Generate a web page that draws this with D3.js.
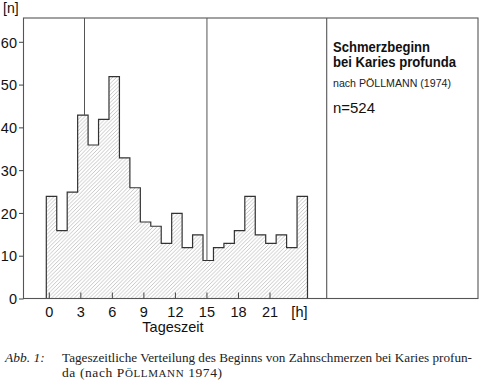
<!DOCTYPE html>
<html><head><meta charset="utf-8">
<script src="https://cdn.jsdelivr.net/npm/d3@7"></script>
<style>body{margin:0;background:#fff}svg{display:block}</style>
</head><body><svg id="c" width="480" height="381"></svg>
<script>
// ---- data ----
const hours  = [0,1,2,3,4,5,6,7,8,9,10,11,12,13,14,15,16,17,18,19,20,21,22,23,24];
const counts = [24,16,25,43,36,42,52,33,26,18,17,13,20,12,15,9,12,13,16,24,15,13,15,12,24];
const xTickValues = [0,3,6,9,12,15,18,21];
const xTickLabels = ["0","3","6","9","12","15","18","21"];
const yTickValues = [0,10,20,30,40,50,60];
const markerHours = [3.35, 15];
const titleLines = ["Schmerzbeginn","bei Karies profunda"];
const sourceText = "nach PÖLLMANN (1974)";
const nText = "n=524";

const svg = d3.select("#c");
const frame = {l:23.5, t:18, r:478, b:298.5, divider:326.7};
const sans = "Liberation Sans, Arial, sans-serif";

const y = d3.scaleLinear().domain([0,60]).range([299,42.3]);
const x = d3.scaleLinear().domain([0,21]).range([49.3,270]);
const xb = d3.scaleBand().domain(hours).range([46.3,307.5]).padding(0);

// hatch pattern
const defs = svg.append("defs");
const p = defs.append("pattern").attr("id","hatch").attr("patternUnits","userSpaceOnUse")
  .attr("width",3.8).attr("height",3.8);
p.append("path").attr("d","M0,3.8L3.8,0M-1,1L1,-1M2.8,4.8L4.8,2.8")
  .attr("stroke","#999").attr("stroke-width",0.55).attr("fill","none");

// histogram step outline
const pts = [];
hours.forEach((h,i)=>{
  pts.push([xb(h), y(counts[i])]);
  pts.push([xb(h)+xb.bandwidth(), y(counts[i])]);
});
const area = [[xb(hours[0]), y(0)], ...pts, [xb(hours[hours.length-1])+xb.bandwidth(), y(0)]];
svg.append("path").attr("d", d3.line()(area)+"Z").attr("fill","url(#hatch)").attr("stroke","none");
svg.append("path").attr("d", d3.line()(area)).attr("fill","none")
  .attr("stroke","#333").attr("stroke-width",1.2).attr("stroke-linejoin","miter");

// marker vertical lines from top down to bar top
markerHours.forEach(h=>{
  const px = x(h);
  const idx = Math.floor((px - xb.range()[0]) / xb.bandwidth());
  svg.append("line").attr("x1",px).attr("x2",px).attr("y1",frame.t).attr("y2",y(counts[idx]))
    .attr("stroke","#555").attr("stroke-width",1);
});

// frame
const g = svg.append("g").attr("stroke","#555").attr("stroke-width",1.1).attr("fill","none");
g.append("rect").attr("x",frame.l).attr("y",frame.t).attr("width",frame.r-frame.l).attr("height",frame.b-frame.t);
g.append("line").attr("x1",frame.divider).attr("x2",frame.divider).attr("y1",frame.t).attr("y2",frame.b);

// y ticks
yTickValues.forEach(v=>{
  svg.append("line").attr("x1",19).attr("x2",frame.l).attr("y1",y(v)).attr("y2",y(v))
    .attr("stroke","#444").attr("stroke-width",1);
  svg.append("text").attr("x",17).attr("y",y(v)).attr("dy","0.36em").attr("text-anchor","end")
    .attr("font-family",sans).attr("font-size",14.5).attr("fill","#111").text(v);
});
// x ticks
xTickValues.forEach((v,i)=>{
  svg.append("line").attr("x1",x(v)).attr("x2",x(v)).attr("y1",frame.b).attr("y2",frame.b-6)
    .attr("stroke","#444").attr("stroke-width",1);
  svg.append("text").attr("x",x(v)).attr("y",316.5).attr("text-anchor","middle")
    .attr("font-family",sans).attr("font-size",14.5).attr("fill","#111").text(xTickLabels[i]);
});
svg.append("text").attr("x",x(23.8)).attr("y",316.5).attr("text-anchor","middle")
  .attr("font-family",sans).attr("font-size",14.5).attr("fill","#111").text("[h]");
svg.append("text").attr("x",173).attr("y",332).attr("text-anchor","middle")
  .attr("font-family",sans).attr("font-size",14.5).attr("fill","#111").text("Tageszeit");
svg.append("text").attr("x",3).attr("y",13)
  .attr("font-family",sans).attr("font-size",14).attr("fill","#111").text("[n]");

// right panel
svg.append("text").attr("x",333).attr("y",51.5).attr("textLength",97).attr("lengthAdjust","spacingAndGlyphs")
  .attr("font-family",sans).attr("font-weight","bold").attr("font-size",14).attr("fill","#111").text(titleLines[0]);
svg.append("text").attr("x",333).attr("y",67).attr("textLength",123).attr("lengthAdjust","spacingAndGlyphs")
  .attr("font-family",sans).attr("font-weight","bold").attr("font-size",14).attr("fill","#111").text(titleLines[1]);
svg.append("text").attr("x",333).attr("y",87).attr("textLength",118).attr("lengthAdjust","spacingAndGlyphs")
  .attr("font-family",sans).attr("font-size",10.5).attr("fill","#222").text(sourceText);
svg.append("text").attr("x",333).attr("y",113).attr("textLength",42).attr("lengthAdjust","spacingAndGlyphs")
  .attr("font-family",sans).attr("font-size",14.5).attr("fill","#111").text(nText);

// caption
const serif = "Liberation Serif, Times New Roman, serif";
svg.append("text").attr("x",5).attr("y",362).attr("font-family",serif).attr("font-style","italic")
  .attr("font-size",13.5).attr("fill","#222").text("Abb. 1:");
svg.append("text").attr("x",62).attr("y",362).attr("textLength",410).attr("lengthAdjust","spacingAndGlyphs")
  .attr("font-family",serif).attr("font-size",13).attr("fill","#222")
  .text("Tageszeitliche Verteilung des Beginns von Zahnschmerzen bei Karies profun-");
const cap2 = svg.append("text").attr("x",62).attr("y",377).attr("font-family",serif).attr("font-size",13.5)
  .attr("letter-spacing",0.6).attr("fill","#222");
cap2.append("tspan").text("da (nach P");
cap2.append("tspan").attr("font-size",11).text("ÖLLMANN");
cap2.append("tspan").text(" 1974)");
</script></body></html>
